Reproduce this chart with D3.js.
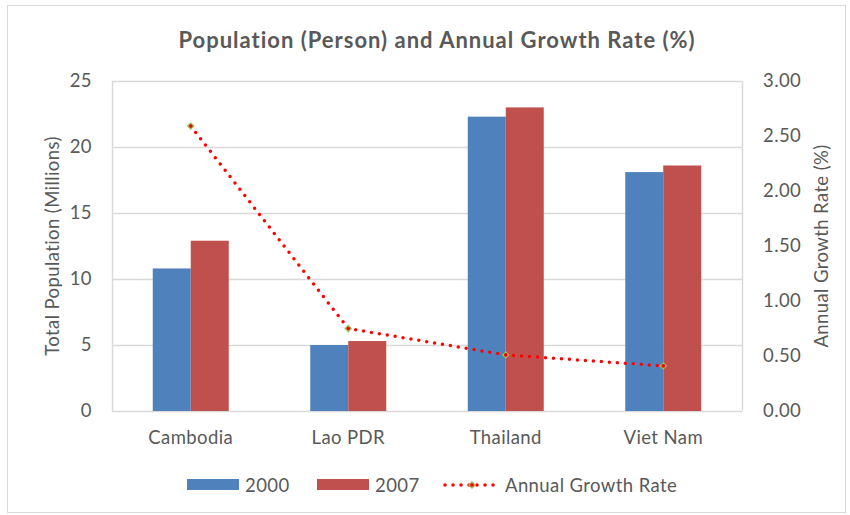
<!DOCTYPE html>
<html>
<head>
<meta charset="utf-8">
<script src="https://cdn.jsdelivr.net/npm/d3@7"></script>
<style>
  body { margin: 0; background: #fff; }
  text { font-family: Lato, 'Open Sans', sans-serif; fill: #595959; letter-spacing: 0.4px; }
</style>
</head>
<body>
<div id="chart"></div>
<script>
const countries = ['Cambodia', 'Lao PDR', 'Thailand', 'Viet Nam'];
const pop2000 = [10.8, 5.0, 22.3, 18.1];
const pop2007 = [12.9, 5.3, 23.0, 18.6];
const growth = [2.59, 0.75, 0.51, 0.41];
const leftTicks = [0, 5, 10, 15, 20, 25];
const rightTicks = [0, 0.5, 1, 1.5, 2, 2.5, 3];

const width = 850;
const height = 515;
const plot = { left: 112, right: 742, top: 81, bottom: 411 };
const blue = '#4f81bd';
const red = '#c0504d';
const grid = '#d9d9d9';
const fs = 18.5;

const x = d3.scaleBand().domain(countries).range([plot.left, plot.right]);
const y = d3.scaleLinear().domain([0, 25]).range([plot.bottom, plot.top]);
const y2 = d3.scaleLinear().domain([0, 3]).range([plot.bottom, plot.top]);
const barW = 38;

const svg = d3.select('#chart').append('svg')
  .attr('width', width)
  .attr('height', height);

svg.append('rect')
  .attr('x', 7.5).attr('y', 5.5)
  .attr('width', 838).attr('height', 507)
  .attr('fill', '#fff').attr('stroke', grid);

svg.append('text')
  .attr('x', 437).attr('y', 48)
  .attr('text-anchor', 'middle')
  .attr('font-size', 22).attr('font-weight', 'bold')
  .style('letter-spacing', '1px')
  .text('Population (Person) and Annual Growth Rate (%)');

// gridlines
svg.append('g').selectAll('line')
  .data(leftTicks)
  .join('line')
  .attr('x1', plot.left).attr('x2', plot.right)
  .attr('y1', (d) => Math.round(y(d)) + 0.5)
  .attr('y2', (d) => Math.round(y(d)) + 0.5)
  .attr('stroke', grid).attr('stroke-width', 1.5);

svg.append('g').selectAll('line')
  .data([plot.left, plot.right])
  .join('line')
  .attr('x1', (d) => d + 0.5).attr('x2', (d) => d + 0.5)
  .attr('y1', plot.top).attr('y2', plot.bottom)
  .attr('stroke', grid).attr('stroke-width', 1.5);

// axes
const leftAxis = svg.append('g')
  .attr('transform', `translate(${plot.left},0)`)
  .call(d3.axisLeft(y).tickValues(leftTicks).tickSize(0).tickPadding(20));
leftAxis.select('.domain').remove();
leftAxis.selectAll('text').attr('font-size', fs).attr('font-family', null).attr('fill', '#595959');

const rightAxis = svg.append('g')
  .attr('transform', `translate(${plot.right},0)`)
  .call(d3.axisRight(y2).tickValues(rightTicks).tickFormat(d3.format('.2f')).tickSize(0).tickPadding(21));
rightAxis.select('.domain').remove();
rightAxis.selectAll('text').attr('font-size', fs).attr('font-family', null).attr('fill', '#595959');

const xAxis = svg.append('g')
  .attr('transform', `translate(0,${plot.bottom})`)
  .call(d3.axisBottom(x).tickSize(0).tickPadding(20));
xAxis.select('.domain').remove();
xAxis.selectAll('text').attr('font-size', fs).attr('font-family', null).attr('fill', '#595959');

svg.append('text')
  .attr('transform', `translate(59,${(plot.top + plot.bottom) / 2}) rotate(-90)`)
  .attr('text-anchor', 'middle')
  .attr('font-size', fs)
  .text('Total Population (Millions)');

svg.append('text')
  .attr('transform', `translate(828,${(plot.top + plot.bottom) / 2}) rotate(-90)`)
  .attr('text-anchor', 'middle')
  .attr('font-size', fs)
  .text('Annual Growth Rate (%)');

// bars
const center = (c) => x(c) + x.bandwidth() / 2;
svg.append('g').selectAll('rect')
  .data(countries)
  .join('rect')
  .attr('x', (d) => center(d) - barW)
  .attr('y', (d, i) => y(pop2000[i]))
  .attr('width', barW)
  .attr('height', (d, i) => y(0) - y(pop2000[i]))
  .attr('fill', blue);

svg.append('g').selectAll('rect')
  .data(countries)
  .join('rect')
  .attr('x', (d) => center(d))
  .attr('y', (d, i) => y(pop2007[i]))
  .attr('width', barW)
  .attr('height', (d, i) => y(0) - y(pop2007[i]))
  .attr('fill', red);

// growth line
const line = d3.line()
  .x((d, i) => center(countries[i]))
  .y((d) => y2(d));

svg.append('path')
  .datum(growth)
  .attr('d', line)
  .attr('fill', 'none')
  .attr('stroke', '#ff0000')
  .attr('stroke-width', 3.5)
  .attr('stroke-linecap', 'round')
  .attr('stroke-dasharray', '0 8');

function marker(g) {
  g.append('path')
    .attr('d', d3.symbol(d3.symbolDiamond2, 40)())
    .attr('fill', '#9bbb59');
  g.append('circle').attr('r', 1.8).attr('fill', '#ff0000');
}

svg.append('g').selectAll('g')
  .data(growth)
  .join('g')
  .attr('transform', (d, i) => `translate(${center(countries[i])},${y2(d)})`)
  .each(function () { marker(d3.select(this)); });

// legend
const legY = 485;
svg.append('rect').attr('x', 187).attr('y', legY - 6).attr('width', 52).attr('height', 11).attr('fill', blue);
svg.append('text').attr('x', 245).attr('y', legY + 7).attr('font-size', fs).text('2000');
svg.append('rect').attr('x', 317).attr('y', legY - 6).attr('width', 52).attr('height', 11).attr('fill', red);
svg.append('text').attr('x', 375).attr('y', legY + 7).attr('font-size', fs).text('2007');
svg.append('line')
  .attr('x1', 445).attr('x2', 497).attr('y1', legY).attr('y2', legY)
  .attr('stroke', '#ff0000').attr('stroke-width', 3.5)
  .attr('stroke-linecap', 'round').attr('stroke-dasharray', '0 8');
marker(svg.append('g').attr('transform', `translate(472,${legY})`));
svg.append('text').attr('x', 505).attr('y', legY + 7).attr('font-size', fs).text('Annual Growth Rate');
</script>
</body>
</html>
